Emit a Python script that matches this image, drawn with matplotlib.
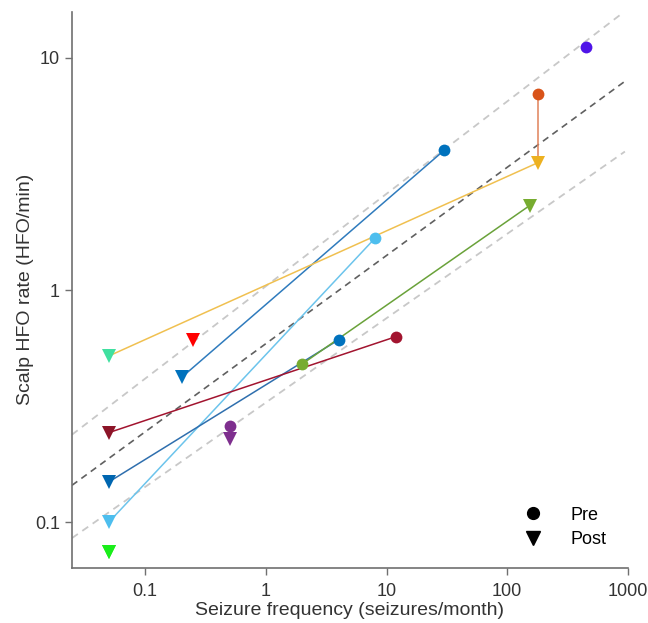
import matplotlib.pyplot as plt
from matplotlib.lines import Line2D

# =========================
# DATA
# =========================
# seizure frequency (seizures/month) and scalp HFO rate (HFO/min)
pre_x = [450, 180, 30, 8, 4, 12, 2, 0.5]
pre_y = [11.1, 7.0, 4.0, 1.67, 0.61, 0.63, 0.48, 0.26]
pre_colors = ["#4f14e8", "#d95319", "#0072bd", "#4dbeee", "#0072bd", "#a2142f", "#77ac30", "#7e2f8e"]

post_x = [180, 153, 0.2, 0.05, 0.05, 0.05, 0.05, 0.05, 0.5, 0.25, 0.05]
post_y = [3.54, 2.31, 0.42, 0.1, 0.149, 0.243, 0.52, 0.0745, 0.227, 0.61, 0.0745]
post_colors = ["#edb120", "#77ac30", "#0072bd", "#4dbeee", "#0066b0", "#8c1428",
               "#40e0a0", "#1aee1a", "#7e2f8e", "#ff0000", "#1aee1a"]

# pre -> post connections (x0, y0, x1, y1, colour)
seg_x0 = [30, 8, 4, 12, 2, 180, 180, 0.5]
seg_y0 = [4.0, 1.67, 0.61, 0.63, 0.48, 7.0, 3.54, 0.26]
seg_x1 = [0.2, 0.05, 0.05, 0.05, 153, 180, 0.05, 0.5]
seg_y1 = [0.42, 0.1, 0.149, 0.243, 2.31, 3.54, 0.52, 0.227]
seg_colors = ["#2f7bbd", "#6cc4ec", "#2f6fae", "#a2142f", "#6aa23a", "#e0825a", "#f0c050", "#7e2f8e"]

# fit line and bounds (log-log)
fit_x = [0.0247, 944]
fit_y = [0.144, 7.93]
upper_x = [0.0247, 887]
upper_y = [0.238, 15.5]
lower_x = [0.0247, 944]
lower_y = [0.0853, 3.95]

x_ticks = [0.1, 1, 10, 100, 1000]
x_labels = ["0.1", "1", "10", "100", "1000"]
y_ticks = [0.1, 1, 10]
y_labels = ["0.1", "1", "10"]

# =========================
# PLOT
# =========================
plt.rcParams["font.family"] = ["Liberation Sans", "DejaVu Sans"]

fig = plt.figure(figsize=(6.48, 6.23), dpi=100)
ax = fig.add_axes([0.111, 0.089, 0.858, 0.892])
ax.set_xscale("log")
ax.set_yscale("log")

ax.plot(upper_x, upper_y, color="#c8c8c8", linestyle=(0, (4, 3)), linewidth=1.3, zorder=1)
ax.plot(lower_x, lower_y, color="#c8c8c8", linestyle=(0, (4, 3)), linewidth=1.3, zorder=1)
ax.plot(fit_x, fit_y, color="#606060", linestyle=(0, (4, 3)), linewidth=1.2, zorder=1)

for x0, y0, x1, y1, c in zip(seg_x0, seg_y0, seg_x1, seg_y1, seg_colors):
    ax.plot([x0, x1], [y0, y1], color=c, linewidth=1.1, zorder=2)

for x, y, c in zip(pre_x, pre_y, pre_colors):
    ax.plot(x, y, "o", color=c, markersize=8.5, markeredgewidth=0, zorder=3)
for x, y, c in zip(post_x, post_y, post_colors):
    ax.plot(x, y, "v", color=c, markersize=9.5, markeredgewidth=0, zorder=3)

ax.set_xlim(0.0247, 1000)
ax.set_ylim(0.0637, 15.8)
ax.set_xticks(x_ticks)
ax.set_xticklabels(x_labels)
ax.set_yticks(y_ticks)
ax.set_yticklabels(y_labels)
ax.minorticks_off()

for side in ["top", "right"]:
    ax.spines[side].set_visible(False)
for side in ["left", "bottom"]:
    ax.spines[side].set_color("#707070")
    ax.spines[side].set_linewidth(1.2)
ax.tick_params(colors="#707070", labelcolor="#333333", labelsize=13, length=5, width=1)
ax.tick_params(axis="x", pad=6)

ax.set_xlabel("Seizure frequency (seizures/month)", fontsize=14, color="#333333", labelpad=1.5)
ax.set_ylabel("Scalp HFO rate (HFO/min)", fontsize=14, color="#333333", labelpad=1)

handles = [
    Line2D([], [], marker="o", color="black", linestyle="none", markersize=8.5),
    Line2D([], [], marker="v", color="black", linestyle="none", markersize=9.5),
]
ax.legend(handles, ["Pre", "Post"], loc="lower right", bbox_to_anchor=(0.99, 0.006),
          frameon=False, fontsize=13, handletextpad=1.05, labelspacing=0.4)

fig.savefig("out.png", dpi=100)
